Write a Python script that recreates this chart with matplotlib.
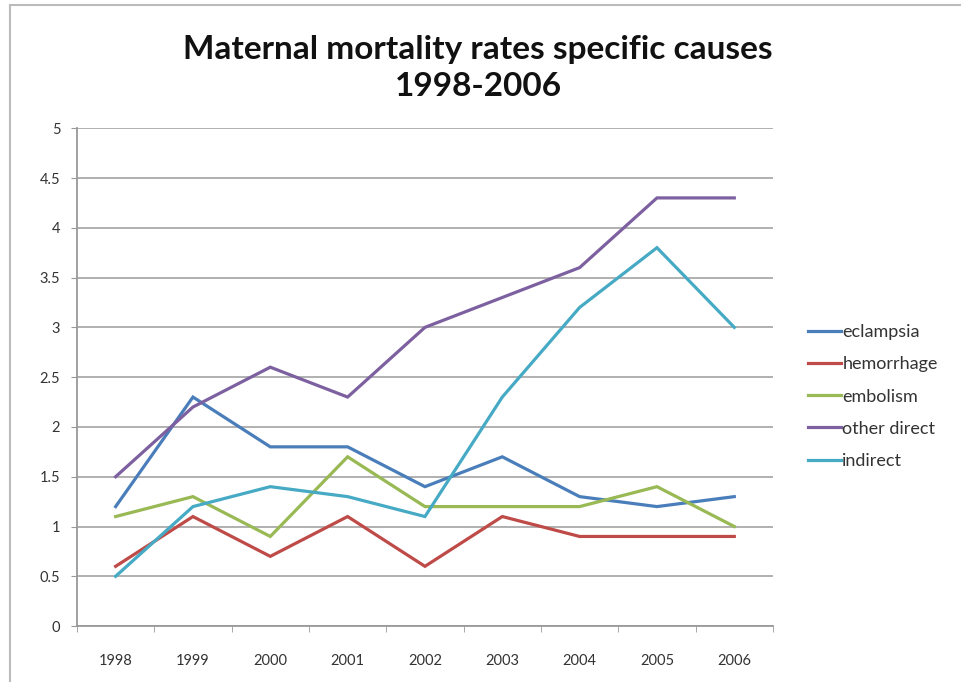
import matplotlib
matplotlib.use('Agg')
import matplotlib.pyplot as plt
from matplotlib.lines import Line2D

# 데이터
years = ['1998', '1999', '2000', '2001', '2002', '2003', '2004', '2005', '2006']
eclampsia = [1.2, 2.3, 1.8, 1.8, 1.4, 1.7, 1.3, 1.2, 1.3]
hemorrhage = [0.6, 1.1, 0.7, 1.1, 0.6, 1.1, 0.9, 0.9, 0.9]
embolism = [1.1, 1.3, 0.9, 1.7, 1.2, 1.2, 1.2, 1.4, 1.0]
other_direct = [1.5, 2.2, 2.6, 2.3, 3.0, 3.3, 3.6, 4.3, 4.3]
indirect = [0.5, 1.2, 1.4, 1.3, 1.1, 2.3, 3.2, 3.8, 3.0]

series_names = ['eclampsia', 'hemorrhage', 'embolism', 'other direct', 'indirect']
series_values = [eclampsia, hemorrhage, embolism, other_direct, indirect]
colors = ['#4A7EBB', '#BE4B48', '#98B954', '#7D60A0', '#46AAC5']
y_ticks = [0, 0.5, 1, 1.5, 2, 2.5, 3, 3.5, 4, 4.5, 5]

plt.rcParams['font.family'] = ['Lato', 'DejaVu Sans']

fig = plt.figure(figsize=(9.62, 6.82), dpi=100)
ax = fig.add_axes([0.080, 0.082, 0.7235, 0.730])

x = list(range(len(years)))
for name, vals, c in zip(series_names, series_values, colors):
    ax.plot(x, vals, color=c, lw=2.3, label=name, solid_joinstyle='miter')

ax.set_xlim(-0.5, len(years) - 0.5)
ax.set_ylim(0, 5)
ax.set_yticks(y_ticks)
ax.set_yticklabels([('%g' % v) for v in y_ticks], fontsize=10.5, color='#333333')
ax.set_xticks(x)
ax.set_xticklabels(years, fontsize=10.5, color='#333333')
ax.tick_params(axis='x', length=0, pad=20)
ax.tick_params(axis='y', length=4, color='#999999', pad=8)
# 카테고리 사이 눈금
ax.set_xticks([i - 0.5 for i in range(len(years) + 1)], minor=True)
ax.tick_params(axis='x', which='minor', length=4, color='#999999')

ax.grid(axis='y', color='#AAAAAA', lw=1.3)
ax.set_axisbelow(True)
for s in ['top', 'right']:
    ax.spines[s].set_visible(False)
ax.spines['left'].set_color('#999999')
ax.spines['bottom'].set_color('#999999')
ax.spines['left'].set_linewidth(1.3)
ax.spines['bottom'].set_linewidth(1.3)

fig.text(0.497, 0.900, 'Maternal mortality rates specific causes\n1998-2006',
         ha='center', va='center', fontsize=24, fontweight='bold',
         linespacing=1.35, color='#111111')

leg = ax.legend(loc='center left', bbox_to_anchor=(1.04, 0.461), frameon=False,
                fontsize=13, handlelength=1.8, handletextpad=0.1,
                labelspacing=0.9, borderaxespad=0)
for t in leg.get_texts():
    t.set_color('#333333')

# 차트 테두리
fig.add_artist(Line2D([0.0105, 0.0105], [0, 0.993], transform=fig.transFigure,
                      color='#BBBBBB', lw=1.5))
fig.add_artist(Line2D([0.0105, 1.0], [0.993, 0.993], transform=fig.transFigure,
                      color='#BBBBBB', lw=1.5))

fig.savefig('out.png', dpi=100)
